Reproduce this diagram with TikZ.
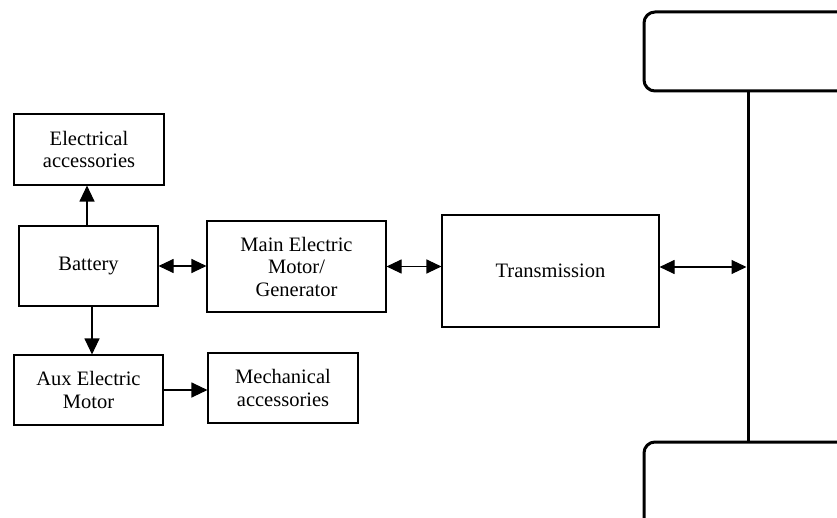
\documentclass[tikz,border=0pt]{standalone}
\usepackage{fontspec}
\setmainfont{Liberation Serif}
\usetikzlibrary{arrows.meta}
\begin{document}
\begin{tikzpicture}[x=1pt,y=-1pt,
  blk/.style={draw,line width=1.1pt,rectangle,align=center,inner sep=0pt,
    font=\fontsize{20.5}{22.5}\selectfont},
  wheel/.style={draw,line width=3pt,rectangle,rounded corners=11pt,inner sep=0pt},
  conn/.style={line width=1.1pt},
  tip/.style={-{Triangle[length=16pt,width=15pt]}},
  tips/.style={{Triangle[length=15pt,width=14pt]}-{Triangle[length=15pt,width=14pt]}}]
\useasboundingbox (0,0) rectangle (837,518);
\node[blk,minimum width=150pt,minimum height=71pt] (elec) at (89,149.5) {Electrical\\accessories};
\node[blk,minimum width=139pt,minimum height=80pt] (bat) at (88.5,266) {Battery};
\node[blk,minimum width=179pt,minimum height=91pt] (main) at (296.5,266.5) {Main Electric\\Motor/\\Generator};
\node[blk,minimum width=149pt,minimum height=70pt] (aux) at (88.5,390) {Aux Electric\\Motor};
\node[blk,minimum width=150pt,minimum height=70pt] (mech) at (283,388) {Mechanical\\accessories};
\node[blk,minimum width=217pt,minimum height=112pt] (trans) at (550.5,271) {Transmission};
\node[wheel,minimum width=208pt,minimum height=79pt] (wtop) at (748,51.5) {};
\node[wheel,minimum width=208pt,minimum height=98pt] (wbot) at (748,491) {};
\draw[line width=3pt] (wtop.south) -- (wbot.north);
\coordinate (axl) at ([yshift=4pt]trans.east -| wtop.south);
\draw[conn,tip] ([xshift=-1.5pt]bat.north) -- ([xshift=-1.5pt]bat.north |- elec.south);
\draw[conn,tip] ([xshift=3.5pt]bat.south) -- ([xshift=3.5pt]bat.south |- aux.north);
\draw[conn,tips] (bat.east) -- (bat.east -| main.west);
\draw[conn,tip] (aux.east) -- (aux.east -| mech.west);
\draw[conn,tips] (main.east) -- (main.east -| trans.west);
\draw[conn,tips] ([yshift=4pt]trans.east) -- ([xshift=-1.5pt]axl);
\end{tikzpicture}
\end{document}
